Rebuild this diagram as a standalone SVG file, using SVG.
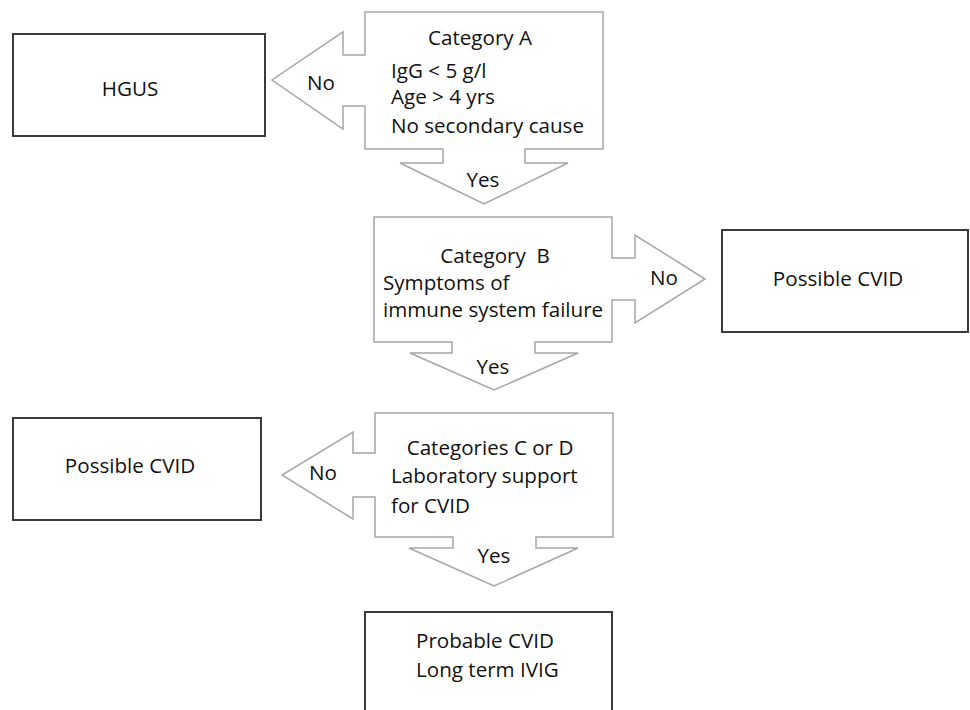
<svg xmlns="http://www.w3.org/2000/svg" width="970" height="710" viewBox="0 0 970 710">
<style>
.arrowshape{fill:#fff;stroke:#a6a6a6;stroke-width:1.5;stroke-linejoin:miter}
.box{fill:#fff;stroke:#3a3a3a;stroke-width:2}
text{font-family:"Open Sans","Liberation Sans",sans-serif;font-size:20.6px;fill:#111}
.c{text-anchor:middle}
</style>
<rect width="970" height="710" fill="#fff"/>
<g id="connectors">
<path class="arrowshape" d="M365,12 L603,12 L603,149 L525,149 L525,163 L568,163 L484,204 L400,163 L443,163 L443,149 L365,149 L365,106 L343,106 L343,129 L272,80 L343,32 L343,55 L365,55 Z"/>
<path class="arrowshape" d="M374,217 L612,217 L612,258 L635,258 L635,235 L705,279 L635,323 L635,300 L612,300 L612,342 L535,342 L535,353 L578,353 L494,390 L410,353 L452,353 L452,342 L374,342 Z"/>
<path class="arrowshape" d="M375,413 L613,413 L613,537 L536,537 L536,548 L578,548 L494,586 L409,548 L453,548 L453,537 L375,537 L375,497 L353,497 L353,519 L282,475 L353,432 L353,453 L375,453 Z"/>
<text x="307" y="90">No</text>
<text x="483" y="187" class="c">Yes</text>
<text x="650" y="285">No</text>
<text x="493" y="374" class="c">Yes</text>
<text x="309" y="480">No</text>
<text x="494" y="563" class="c">Yes</text>
</g>
<g id="categoryA">
<text x="480" y="45" class="c">Category A</text>
<text x="391" y="78">IgG &lt; 5 g/l</text>
<text x="391" y="104">Age &gt; 4 yrs</text>
<text x="391" y="133">No secondary cause</text>
</g>
<g id="categoryB">
<text x="495" y="263" class="c" xml:space="preserve">Category  B</text>
<text x="383" y="290">Symptoms of</text>
<text x="383" y="317">immune system failure</text>
</g>
<g id="categoryCD">
<text x="490" y="455" class="c">Categories C or D</text>
<text x="391" y="483">Laboratory support</text>
<text x="391" y="513">for CVID</text>
</g>
<g id="hgus">
<rect class="box" x="13" y="34" width="252" height="102"/>
<text x="130" y="96" class="c">HGUS</text>
</g>
<g id="possibleCVID1">
<rect class="box" x="722" y="230" width="246" height="102"/>
<text x="838" y="286" class="c">Possible CVID</text>
</g>
<g id="possibleCVID2">
<rect class="box" x="13" y="418" width="248" height="102"/>
<text x="130" y="473" class="c">Possible CVID</text>
</g>
<g id="probableCVID">
<rect class="box" x="365" y="612" width="247" height="110"/>
<text x="416" y="648">Probable CVID</text>
<text x="416" y="677">Long term IVIG</text>
</g>
</svg>
